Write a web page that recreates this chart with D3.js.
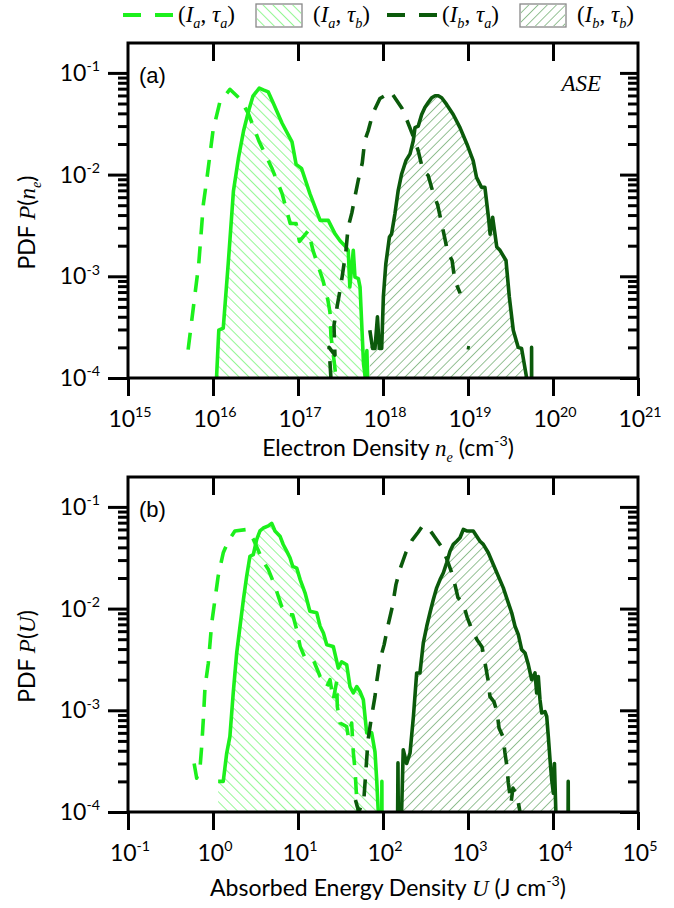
<!DOCTYPE html>
<html><head><meta charset="utf-8">
<script src="https://cdn.jsdelivr.net/npm/d3@7/dist/d3.min.js"></script>
<style>html,body{margin:0;padding:0;background:#fff;}svg{display:block;}</style>
</head><body>
<svg id="chart" width="674" height="908"></svg>
<script>
// ---------------- DATA ----------------
const seriesNames = ["(Ia, τa)", "(Ia, τb)", "(Ib, τa)", "(Ib, τb)"];
const xTicksA = [1e15, 1e16, 1e17, 1e18, 1e19, 1e20, 1e21];
const xTickExpA = ["15", "16", "17", "18", "19", "20", "21"];
const xTicksB = [1e-1, 1e0, 1e1, 1e2, 1e3, 1e4, 1e5];
const xTickExpB = ["-1", "0", "1", "2", "3", "4", "5"];
const yTicks = [1e-1, 1e-2, 1e-3, 1e-4];
const yTickExp = ["-1", "-2", "-3", "-4"];

// Panel (a): electron density n_e (cm^-3) vs PDF
const ne_IaTa = [[5.1e15,1.9e-4],[6.8e15,1.33e-3],[7.7e15,5.1e-3],[8.5e15,9.3e-3],[1.0e16,2.7e-2],[1.2e16,5.1e-2],[1.58e16,6.9e-2],[2.1e16,5.5e-2],[2.6e16,4.0e-2],[3.5e16,2.1e-2],[4.9e16,1.17e-2],[6.5e16,6.5e-3],[8.1e16,3.3e-3],[9.5e16,3.3e-3],[1.04e17,2.2e-3],[1.32e17,2.8e-3],[1.5e17,1.8e-3],[1.97e17,9.1e-4],[2.25e17,5.8e-4],[2.38e17,4.4e-4],[2.44e17,2.6e-4],[2.65e17,1.5e-4],[2.8e17,1e-4]];
const ne_IaTb = [[1.1e16,1e-4],[1.17e16,2.95e-4],[1.32e16,3.1e-4],[1.51e16,1.33e-3],[1.74e16,6.9e-3],[2.0e16,1.48e-2],[2.29e16,2.7e-2],[2.63e16,4.27e-2],[2.95e16,5.9e-2],[3.5e16,7.1e-2],[3.9e16,6.8e-2],[4.47e16,6.5e-2],[5.1e16,5.1e-2],[6.5e16,3.2e-2],[8.5e16,2.1e-2],[9.5e16,1.26e-2],[1.1e17,1.15e-2],[1.38e17,6.5e-3],[1.82e17,3.55e-3],[2.27e17,3.55e-3],[2.72e17,2.63e-3],[3.12e17,2.24e-3],[3.55e17,2.0e-3],[3.9e17,1.8e-3],[4.07e17,7.85e-4],[4.47e17,1.8e-3],[4.68e17,9.8e-4],[5.13e17,9.5e-4],[5.37e17,7.85e-4],[5.9e17,1.38e-4],[6.17e17,1.02e-4],[6.46e17,1.86e-4],[6.6e17,1e-4]];
const ne_IbTa = [[2.44e17,1e-4],[2.32e17,2.0e-4],[2.72e17,1.68e-4],[2.65e17,3.3e-4],[2.88e17,5.0e-4],[3.12e17,7.3e-4],[3.3e17,9.8e-4],[3.67e17,1.8e-3],[3.88e17,3.0e-3],[4.3e17,4.2e-3],[4.7e17,6.2e-3],[5.1e17,8.7e-3],[5.7e17,1.3e-2],[6.1e17,2.15e-2],[6.7e17,2.7e-2],[7.6e17,4.0e-2],[9.2e17,5.6e-2],[1.24e18,6.5e-2],[1.67e18,4.5e-2],[1.92e18,3.4e-2],[2.38e18,2.15e-2],[2.6e18,1.7e-2],[2.95e18,1.1e-2],[3.4e18,9.8e-3],[3.87e18,6.7e-3],[4.4e18,5.0e-3],[4.9e18,3.3e-3],[5.4e18,2.25e-3],[5.8e18,1.7e-3],[6.5e18,1.43e-3],[7.0e18,9.1e-4],[8.1e18,6.8e-4],null,[9.7e18,2.0e-4],[1.05e19,1.97e-4]];
const ne_IbTb = [[7.0e17,2.95e-4],[7.55e17,1.95e-4],[8.05e17,1.95e-4],[8.6e17,4.0e-4],[9.05e17,1.95e-4],[9.65e17,1.95e-4],[1.01e18,6.3e-4],[1.08e18,1.33e-3],[1.19e18,2.43e-3],[1.26e18,2.6e-3],[1.38e18,4.1e-3],[1.51e18,7.0e-3],[1.66e18,1.02e-2],[1.86e18,1.37e-2],[2.08e18,1.6e-2],[2.27e18,2.15e-2],[2.38e18,2.9e-2],[2.6e18,3.0e-2],[2.85e18,3.9e-2],[3.12e18,4.6e-2],[3.4e18,5.1e-2],[3.74e18,5.7e-2],[4.1e18,5.96e-2],[4.47e18,5.96e-2],[4.9e18,5.7e-2],[5.6e18,4.9e-2],[6.7e18,3.9e-2],[8.05e18,2.9e-2],[9.7e18,2.0e-2],[1.15e19,1.37e-2],[1.26e19,9.4e-3],[1.44e19,7.5e-3],[1.58e19,7.5e-3],[1.74e19,3.8e-3],[1.82e19,2.6e-3],[1.95e19,3.8e-3],[2.18e19,1.94e-3],[2.38e19,1.8e-3],[2.8e19,1.43e-3],[3.06e19,6.3e-4],[3.41e19,2.95e-4],[3.9e19,2.0e-4],[4.27e19,1.95e-4],[4.9e19,1.0e-4],[5.55e19,1e-5],[5.6e19,2.0e-4],[5.65e19,1e-5]];

// Panel (b): absorbed energy density U (J cm^-3) vs PDF
const U_IaTa = [[0.60,3.0e-4],[0.643,2.15e-4],[0.703,2.7e-4],[0.736,4.4e-4],[0.769,8.05e-4],[0.806,1.71e-3],[0.881,2.9e-3],[0.966,7.2e-3],[1.055,1.23e-2],[1.15,2.08e-2],[1.32,3.54e-2],[1.51,4.6e-2],[1.81,5.8e-2],[2.49,6.0e-2],[2.98,4.8e-2],[3.9,2.9e-2],[4.48,2.42e-2],[5.36,1.66e-2],[6.43,1.05e-2],[7.36,8.7e-3],[8.67,8.7e-3],[9.66,6.2e-3],[10.6,4.25e-3],[12.1,3.27e-3],[15.1,3.15e-3],[18.2,2.15e-3],[21.8,1.71e-3],[23.8,2.0e-3],[26,1.27e-3],[28.5,1.92e-3],[29,1.09e-3],[31.2,7.5e-4],[37.4,6.9e-4],[39.1,5.5e-4],[42.8,7.5e-4],[44.8,3.8e-4],[46.9,2.6e-4],[49.1,1.31e-4],[51.2,1e-4]];
const U_IaTb = [[1.15,2.0e-4],[1.32,2.0e-4],[1.45,3.8e-4],[1.58,5.5e-4],[1.73,1.48e-3],[1.9,3.66e-3],[2.08,6.7e-3],[2.28,1.23e-2],[2.49,2.08e-2],[2.72,3.27e-2],[2.98,3.4e-2],[3.27,4.8e-2],[3.57,5.8e-2],[3.91,6.2e-2],[4.48,6.5e-2],[4.9,6.9e-2],[5.36,5.8e-2],[6.14,5.15e-2],[6.7,4.27e-2],[7.36,3.67e-2],[8.05,3.16e-2],[8.67,2.6e-2],[9.66,2.5e-2],[10.6,1.93e-2],[12.1,1.43e-2],[13.8,9.4e-3],[16.6,9.1e-3],[18.2,6.7e-3],[19.9,5.75e-3],[21.8,4.4e-3],[26,4.25e-3],[29.8,2.6e-3],[32.6,3.0e-3],[37.4,2.8e-3],[40.9,1.71e-3],[44.8,1.48e-3],[49.1,1.71e-3],[53.6,1.53e-3],[58.7,1.27e-3],[64.3,6.0e-4],[73.6,6.0e-4],[80.5,3.9e-4],[84.3,2.07e-4],[88,1e-4],[96,1e-5],[97,2.0e-4],[98,1e-5]];
const U_IbTa = [[47.4,1.31e-4],[52,1e-4],[59.7,1.37e-4],[63,2.6e-4],[66.7,5.1e-4],[72.3,8.05e-4],[80.5,1.37e-3],[85,2.0e-3],[92.2,3.14e-3],[103,4.4e-3],[115,6.95e-3],[128,1.02e-2],[142,1.72e-2],[158,2.42e-2],[186,3.56e-2],[219,4.68e-2],[258,5.6e-2],[288,6.4e-2],[330,6.4e-2],[387,5.36e-2],[494,4.0e-2],[566,3.04e-2],[667,2.07e-2],[762,1.28e-2],[873,1.15e-2],[973,8.3e-3],[1114,6.2e-3],[1276,4.95e-3],[1462,4.2e-3],[1585,2.94e-3],[1718,2.0e-3],[1815,1.36e-3],[2024,1.21e-3],[2193,9.7e-4],[2317,6.7e-4],[2583,5.5e-4],[2723,3.8e-4],[2878,2.77e-4],[2980,1.93e-4],[3208,1.23e-4],[3380,1.72e-4],[3767,1.47e-4],[4090,1e-4]];
const U_IbTb = [[146,1e-5],[150,3.04e-4],[154,1e-5],[173,4.1e-4],[190,3.0e-4],[208,3.8e-4],[228,8.7e-4],[249,2.33e-3],[272,2.33e-3],[298,4.6e-3],[327,6.7e-3],[357,9.1e-3],[391,1.23e-2],[428,1.6e-2],[469,1.93e-2],[513,2.25e-2],[561,2.82e-2],[614,3.67e-2],[672,4.28e-2],[736,4.6e-2],[805,4.97e-2],[881,6.0e-2],[966,5.8e-2],[1153,5.8e-2],[1265,5.15e-2],[1384,4.6e-2],[1514,4.28e-2],[1733,3.54e-2],[1985,2.71e-2],[2274,2.08e-2],[2603,1.6e-2],[2980,1.14e-2],[3266,9.1e-3],[3573,6.7e-3],[3910,5.55e-3],[4283,3.95e-3],[4688,3.66e-3],[5129,2.8e-3],[5610,2.0e-3],[6138,2.33e-3],[6427,1.48e-3],[6714,2.15e-3],[7030,1.27e-3],[7362,9.4e-4],[8054,9.7e-4],[8433,8.7e-4],[8810,5.5e-4],[9226,3.25e-4],[9660,2.07e-4],[10100,1.53e-4],[10400,3.0e-4],[10800,1e-4],[14900,1e-5],[15100,2.0e-4],[15300,1e-5]];

// ---------------- STYLE ----------------
const LIGHT = "#1cf01c", DARK = "#0b5a0b", LIGHT_HATCH = "#3cf03c", DARK_HATCH = "#3f8f3f";
const SANS = "Lato, 'Open Sans', sans-serif", SERIF = "'Liberation Serif', 'DejaVu Serif', serif";
const X0 = 128, X1 = 638;

const svg = d3.select("#chart");
const defs = svg.append("defs");
function hatch(id, color, angle, w) {
  const p = defs.append("pattern").attr("id", id).attr("patternUnits", "userSpaceOnUse")
    .attr("width", w).attr("height", w).attr("patternTransform", `rotate(${angle})`);
  p.append("line").attr("x1", 0).attr("y1", 0).attr("x2", 0).attr("y2", w)
    .attr("stroke", color).attr("stroke-width", 1.1);
}
hatch("hLight", LIGHT_HATCH, -45, 7);
hatch("hDark", DARK_HATCH, 45, 6.5);

function rich(g, x, y, parts, size, family, anchor) {
  const t = g.append("text").attr("x", x).attr("y", y).attr("font-size", size)
    .attr("font-family", family).attr("text-anchor", anchor || "start").attr("fill", "#000");
  let off = 0;
  parts.forEach(p => {
    const target = p.sup ? -size * 0.42 : p.sub ? size * 0.28 : 0;
    const ts = t.append("tspan").text(p.t).attr("dy", target - off);
    off = target;
    if (p.sup || p.sub) ts.attr("font-size", size * 0.62);
    if (p.it) ts.attr("font-style", "italic");
    if (p.serif) ts.attr("font-family", SERIF);
  });
  return t;
}

function panel(cfg) {
  const { top, bottom, xDomain, xTicks, xExp, label, series, tag, yLabelParts, xTitleParts, clipId, titleDy } = cfg;
  const x = d3.scaleLog().domain(xDomain).range([X0, X1]);
  const y = d3.scaleLog().domain([1e-4, Math.pow(10, -0.706)]).range([bottom, top]);
  const g = svg.append("g");

  defs.append("clipPath").attr("id", clipId).append("rect")
    .attr("x", X0).attr("y", top).attr("width", X1 - X0).attr("height", bottom - top);

  const plot = g.append("g").attr("clip-path", `url(#${clipId})`);
  const area = d3.area().defined(d => d !== null).x(d => x(d[0])).y0(y(1e-4)).y1(d => y(d[1]));
  const line = d3.line().defined(d => d !== null).x(d => x(d[0])).y(d => y(d[1]));

  // hatched fills
  plot.append("path").datum(series[1]).attr("d", area).attr("fill", "url(#hLight)");
  plot.append("path").datum(series[3]).attr("d", area).attr("fill", "url(#hDark)");
  // lines
  const styles = [
    { c: LIGHT, dash: "17,12" }, { c: LIGHT, dash: null },
    { c: DARK, dash: "17,12" }, { c: DARK, dash: null }];
  series.forEach((s, i) => {
    const p = plot.append("path").datum(s).attr("d", line).attr("fill", "none")
      .attr("stroke", styles[i].c).attr("stroke-width", 3.6).attr("stroke-linejoin", "round");
    if (styles[i].dash) p.attr("stroke-dasharray", styles[i].dash);
  });

  // axes
  const minor = [];
  [-4, -3, -2, -1].forEach(k => { for (let m = 2; m <= 9; m++) { const v = m * Math.pow(10, k); if (v < y.domain()[1]) minor.push(v); } });
  const ax = g.append("g");
  const styleAxis = sel => { sel.select(".domain").remove(); sel.selectAll("line").attr("stroke", "#000").attr("stroke-width", 3); sel.selectAll("text").remove(); };
  ax.append("g").attr("transform", `translate(${X0},0)`).call(d3.axisLeft(y).tickValues(yTicks).tickSize(20).tickFormat("")).call(styleAxis);
  ax.append("g").attr("transform", `translate(${X0},0)`).call(d3.axisLeft(y).tickValues(minor).tickSize(10).tickFormat("")).call(styleAxis);
  ax.append("g").attr("transform", `translate(${X1},0)`).call(d3.axisLeft(y).tickValues(yTicks).tickSize(18).tickFormat("")).call(styleAxis);
  ax.append("g").attr("transform", `translate(${X1},0)`).call(d3.axisLeft(y).tickValues(minor).tickSize(10).tickFormat("")).call(styleAxis);
  ax.append("g").attr("transform", `translate(0,${bottom})`).call(d3.axisBottom(x).tickValues(xTicks).tickSize(18).tickFormat("")).call(styleAxis);
  ax.append("g").attr("transform", `translate(0,${top})`).call(d3.axisBottom(x).tickValues(xTicks.slice(1, -1)).tickSize(18).tickFormat("")).call(styleAxis);
  g.append("rect").attr("x", X0).attr("y", top).attr("width", X1 - X0).attr("height", bottom - top)
    .attr("fill", "none").attr("stroke", "#000").attr("stroke-width", 3);

  // tick labels
  yTicks.forEach((v, i) => rich(g, 100, y(v) + 8, [{ t: "10" }, { t: yTickExp[i], sup: true }], 23, SANS, "end"));
  xTicks.forEach((v, i) => rich(g, x(v) + 2, bottom + 49, [{ t: "10" }, { t: xExp[i], sup: true }], 23, SANS, "middle"));

  // titles
  rich(g, (X0 + X1) / 2 + 5, bottom + titleDy, xTitleParts, 23, SANS, "middle");
  const yl = rich(g, 0, 0, yLabelParts, 23, SANS, "middle");
  yl.attr("transform", `translate(${35},${(top + bottom) / 2 + 12}) rotate(-90)`);
  g.append("text").attr("x", 139).attr("y", top + 40).attr("font-family", "'Liberation Sans', Arial, sans-serif")
    .attr("font-size", 22).text(label);
  if (tag) rich(g, 601, top + 48, [{ t: tag, it: true, serif: true }], 23, SERIF, "end");
}

panel({
  top: 43, bottom: 378, xDomain: [1e15, 1e21], xTicks: xTicksA, xExp: xTickExpA, label: "(a)", tag: "ASE", titleDy: 78,
  series: [ne_IaTa, ne_IaTb, ne_IbTa, ne_IbTb], clipId: "clipA",
  yLabelParts: [{ t: "PDF  " }, { t: "P", it: true, serif: true }, { t: "(" }, { t: "n", it: true, serif: true }, { t: "e", it: true, serif: true, sub: true }, { t: ")" }],
  xTitleParts: [{ t: "Electron Density " }, { t: "n", it: true, serif: true }, { t: "e", it: true, serif: true, sub: true }, { t: " (cm" }, { t: "-3", sup: true }, { t: ")" }]
});
panel({
  top: 477, bottom: 812, xDomain: [1e-1, 1e5], xTicks: xTicksB, xExp: xTickExpB, label: "(b)", tag: null, titleDy: 84,
  series: [U_IaTa, U_IaTb, U_IbTa, U_IbTb], clipId: "clipB",
  yLabelParts: [{ t: "PDF  " }, { t: "P", it: true, serif: true }, { t: "(" }, { t: "U", it: true, serif: true }, { t: ")" }],
  xTitleParts: [{ t: "Absorbed Energy Density " }, { t: "U", it: true, serif: true }, { t: " (J cm" }, { t: "-3", sup: true }, { t: ")" }]
});

// ---------------- LEGEND ----------------
const leg = svg.append("g");
const legItems = [
  { x: 123, type: "dash", c: LIGHT, sub: ["a", "a"] },
  { x: 256, type: "rect", fill: "url(#hLight)", sub: ["a", "b"] },
  { x: 387, type: "dash", c: DARK, sub: ["b", "a"] },
  { x: 520, type: "rect", fill: "url(#hDark)", sub: ["b", "b"] }];
legItems.forEach((it, i) => {
  let tx;
  if (it.type === "dash") {
    leg.append("line").attr("x1", it.x).attr("x2", it.x + 50).attr("y1", 15).attr("y2", 15)
      .attr("stroke", it.c).attr("stroke-width", 4).attr("stroke-dasharray", "18,14");
    tx = it.x + 55;
  } else {
    leg.append("rect").attr("x", it.x).attr("y", 4).attr("width", 46).attr("height", 23)
      .attr("fill", "#fff").attr("stroke", "#888").attr("stroke-width", 1.3);
    leg.append("rect").attr("x", it.x + 1).attr("y", 5).attr("width", 44).attr("height", 21).attr("fill", it.fill);
    tx = it.x + 57;
  }
  rich(leg, tx, 22, [{ t: "(" }, { t: "I", it: true }, { t: it.sub[0], it: true, sub: true }, { t: ", " }, { t: "τ", it: true }, { t: it.sub[1], it: true, sub: true }, { t: ")" }], 23, SERIF, "start");
});
</script>
</body></html>
